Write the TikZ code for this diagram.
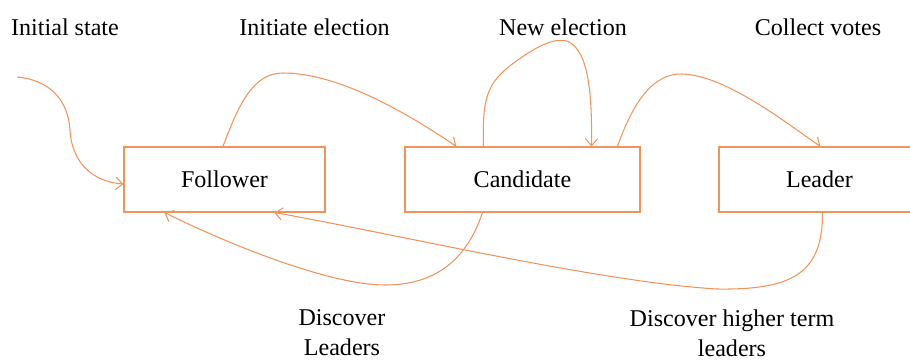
\documentclass[tikz,border=0pt]{standalone}
\usepackage{fontspec}
\setmainfont{Liberation Serif}
\usetikzlibrary{arrows.meta, calc}
\definecolor{raftorange}{RGB}{240,148,92}
\tikzset{
  statebox/.style={
    draw=raftorange, line width=0.6pt,
    minimum width=4.02cm, minimum height=1.3cm,
    inner sep=0pt, font=\fontsize{13.7}{17}\selectfont
  },
  trans/.style={draw=raftorange, line width=0.6pt, -{Straight Barb[length=4pt, width=7pt]}},
  lbl/.style={font=\fontsize{13.7}{17}\selectfont, align=center, inner sep=0pt},
}

\begin{document}
\begin{tikzpicture}[x=0.02cm, y=-0.02cm]
  \useasboundingbox (0,0) rectangle (910,359);

  % states
  \node[statebox] (follower) at (224.5,179.5) {Follower};
  \node[statebox, minimum width=4.7cm] (candidate) at (522.5,179.5) {Candidate};
  \node[statebox] (leader) at (819.5,179.5) {Leader};

  % labels
  \node[lbl] (lblinit)     at (65,27)    {Initial state};
  \node[lbl] (lblinitiate) at (314.5,27) {Initiate election};
  \node[lbl] (lblnew)      at (563,27)   {New election};
  \node[lbl] (lblcollect)  at (818,27)   {Collect votes};
  \node[lbl] (lbldiscover) at (342,333)  {Discover\\Leaders};
  \node[lbl] (lblhigher)   at (732,333)  {Discover higher term\\leaders};

  \coordinate (start) at (17,77);

  % transitions
  \draw[trans] (start) .. controls (50,80) and (68,100) .. (70,130)
    .. controls (72,165) and (95,182) .. ($(follower.west)+(0,4.5)$);
  \draw[trans] ($(follower.north west)+(99.5,0)$) .. controls (240,100) and (255,73) .. (283,73)
    .. controls (340,73) and (410,115) .. ($(candidate.north west)+(52,0)$);
  \draw[trans] ($(candidate.north west)+(79,0)$) .. controls (482,95) and (488,82) .. (515,62)
    .. controls (540,44) and (555,38) .. (567,41)
    .. controls (590,50) and (592,100) .. ($(candidate.north west)+(187,0)$);
  \draw[trans] ($(candidate.north west)+(213,0)$) .. controls (632,105) and (652,73) .. (682,74)
    .. controls (725,75) and (785,122) .. ($(leader.north west)+(102,0)$);
  \draw[trans] ($(candidate.south west)+(78,0)$) .. controls (465,265) and (430,285) .. (385,285)
    .. controls (330,285) and (230,245) .. ($(follower.south west)+(41,0)$);
  \draw[trans] ($(leader.south west)+(104,0)$) .. controls (823,275) and (790,290) .. (717,289)
    .. controls (600,282) and (400,235) .. ($(follower.south west)+(151,0)$);
\end{tikzpicture}
\end{document}
